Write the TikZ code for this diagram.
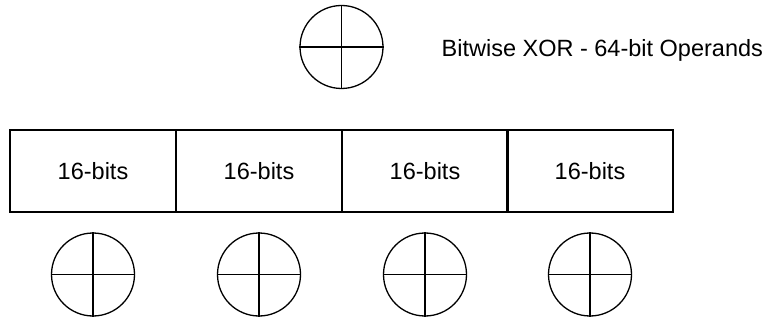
\documentclass[tikz,border=0pt]{standalone}
\usepackage{fontspec}
\setmainfont{Liberation Sans}
\begin{document}
\begin{tikzpicture}[x=1pt,y=-1pt,
  line width=1.3pt,
  xorsym/.style={circle,draw,minimum size=83pt,inner sep=0pt},
  bitbox/.style={rectangle,draw,minimum width=166pt,minimum height=82pt,inner sep=0pt,font=\fontsize{23.5}{28}\selectfont},
  lbl/.style={font=\fontsize{23.5}{28}\selectfont,inner sep=0pt}]
\useasboundingbox (0,0) rectangle (781,320);
% top XOR symbol
\node[xorsym] (top) at (341.5,47) {};
\draw (top.north) -- (top.south);
\draw (top.west) -- (top.east);
\node[lbl,anchor=base west] (title) at (441,57) {Bitwise XOR - 64-bit Operands};
% boxes
\foreach \i/\x in {1/93,2/259,3/425,4/590}{
  \node[bitbox] (b\i) at (\x,171) {16-bits};
  \node[xorsym] (c\i) at (\x,274.5) {};
  \draw (c\i.north) -- (c\i.south);
  \draw (c\i.west) -- (c\i.east);
}
\end{tikzpicture}
\end{document}
